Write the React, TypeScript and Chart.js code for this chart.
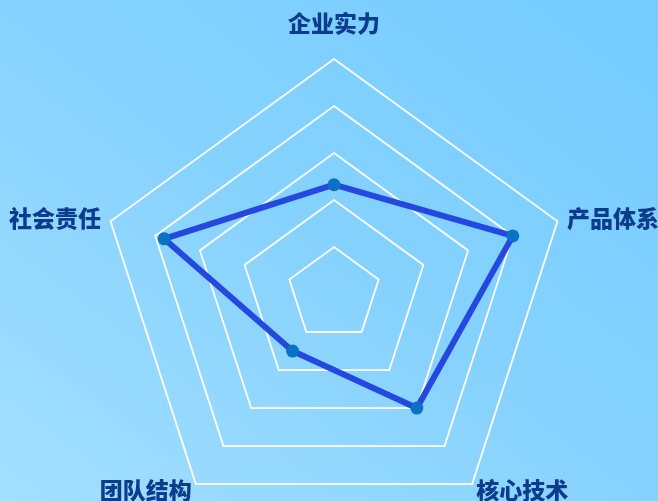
import React, { useEffect, useRef } from "react";
import { Chart, registerables } from "chart.js";

Chart.register(...registerables);

const categories = ["企业实力", "产品体系", "核心技术", "团队结构", "社会责任"];
const values = [46.5, 80, 60, 30, 76];
const scaleMax = 100;
const scaleStep = 20;

const labelGaps = [36, 10, 7, 7, 10];

const pointLabelPlugin = {
  id: "customPointLabels",
  afterDraw(chart: any) {
    const scale = chart.scales.r;
    const ctx = chart.ctx;
    ctx.save();
    ctx.font = '900 23px "Noto Sans CJK SC", "Noto Sans", sans-serif';
    ctx.fillStyle = "#0d3b8d";
    ctx.textBaseline = "middle";
    categories.forEach((label, i) => {
      const p = scale.getPointPosition(i, scale.drawingArea + labelGaps[i]);
      const dx = p.x - scale.xCenter;
      ctx.textAlign = Math.abs(dx) < 5 ? "center" : dx > 0 ? "left" : "right";
      ctx.fillText(label, p.x, p.y);
    });
    ctx.restore();
  },
};

export default function App() {
  const ref = useRef<HTMLCanvasElement>(null);
  useEffect(() => {
    if (!ref.current) return;
    const chart = new Chart(ref.current, {
      type: "radar",
      data: {
        labels: categories,
        datasets: [
          {
            data: values,
            borderColor: "#2548e0",
            borderWidth: 6,
            backgroundColor: "rgba(0,0,0,0)",
            fill: false,
            pointBackgroundColor: "#0a72c4",
            pointBorderColor: "#0a72c4",
            pointBorderWidth: 0,
            pointRadius: 6.5,
          },
        ],
      },
      options: {
        animation: false,
        responsive: false,
        layout: { padding: { top: 59, left: 10, right: 0, bottom: 11 } },
        plugins: { legend: { display: false }, tooltip: { enabled: false } },
        scales: {
          r: {
            min: 0,
            max: scaleMax,
            ticks: { display: false, stepSize: scaleStep },
            grid: { color: "#ffffff", lineWidth: 1.8 },
            angleLines: { display: false },
            pointLabels: { display: false },
          },
        },
      },
      plugins: [pointLabelPlugin],
    });
    return () => chart.destroy();
  }, []);
  return (
    <div
      style={{
        position: "fixed",
        left: 0,
        top: 0,
        width: 658,
        height: 501,
        overflow: "hidden",
        background: "linear-gradient(to top right, #a3dfff 0%, #86d2fe 50%, #74ccff 100%)",
      }}
    >
      <canvas ref={ref} width={658} height={540} style={{ display: "block" }} />
    </div>
  );
}
